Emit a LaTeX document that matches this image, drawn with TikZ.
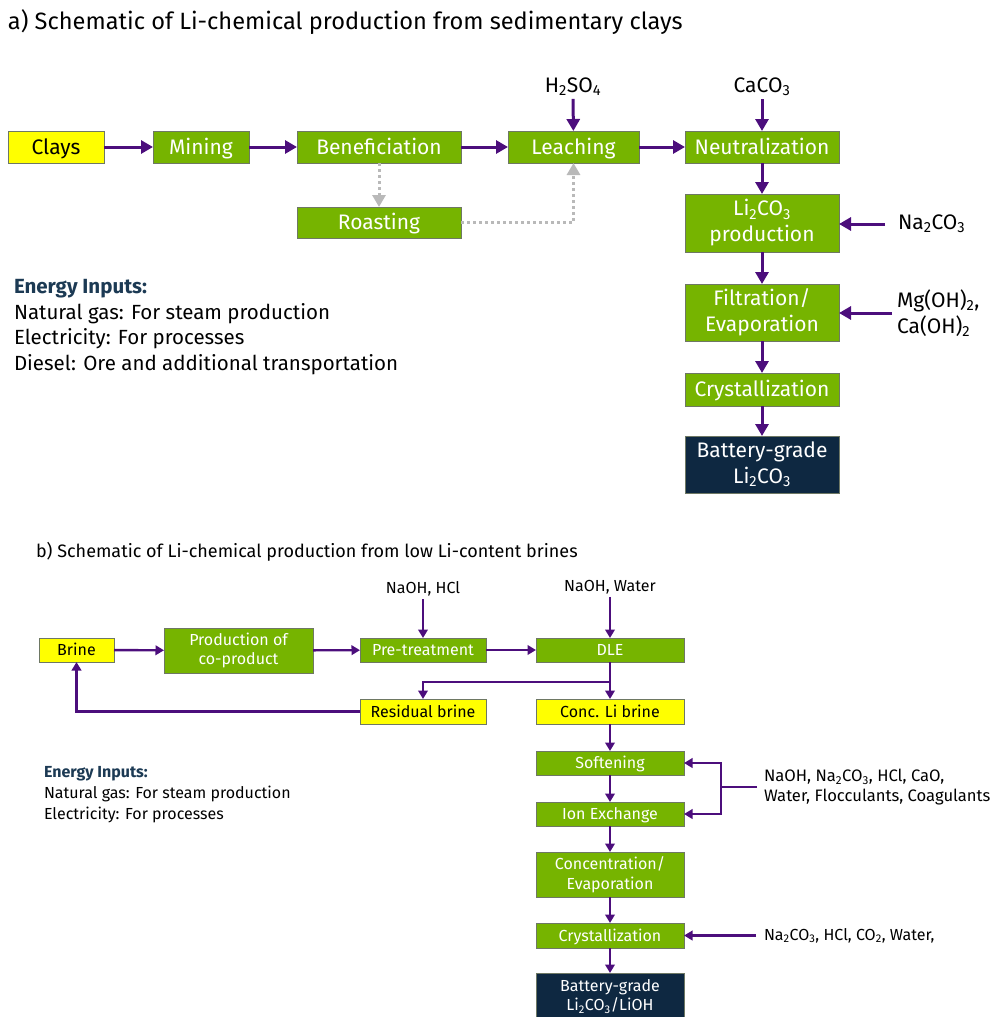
\documentclass[tikz,border=0pt]{standalone}
\usepackage{fontspec}
\setmainfont{Fira Sans}
\usetikzlibrary{arrows.meta,positioning}

\definecolor{procgreen}{RGB}{118,180,0}
\definecolor{feedyellow}{RGB}{255,255,0}
\definecolor{flowpurple}{RGB}{76,14,124}
\definecolor{productnavy}{RGB}{14,40,65}
\definecolor{headblue}{RGB}{28,58,84}
\definecolor{boxedge}{RGB}{110,120,100}
\definecolor{recyclegray}{RGB}{185,185,185}

\begin{document}
\begin{tikzpicture}[%
    x=1pt, y=-1pt,
    every node/.style={inner sep=0pt, outer sep=0pt},
    box/.style={draw=boxedge, line width=0.8pt, minimum height=32pt},
    proc/.style={box, fill=procgreen, text=white},
    feed/.style={box, fill=feedyellow, text=black},
    product/.style={box, fill=productnavy, text=white},
    twoline/.style={align=center},
    fonta/.style={font=\fontsize{21}{26}\selectfont},
    fontb/.style={font=\fontsize{16}{19.5}\selectfont},
    capa/.style={fonta, text height=14.5pt, text depth=0pt},
    capb/.style={fontb, text height=11pt, text depth=0pt},
    flow/.style={draw=flowpurple, line width=3pt, -{Triangle[length=12pt,width=13pt]}},
    flowb/.style={draw=flowpurple, line width=2.4pt, -{Triangle[length=8.5pt,width=9.5pt]}},
    recycle/.style={draw=recyclegray, line width=3pt, dash pattern=on 3pt off 3pt,
                    -{Triangle[length=12pt,width=13pt]}}]
    \useasboundingbox (0,0) rectangle (993,1017);

    % a) sedimentary clays
    \node[font=\fontsize{23.6}{28}\selectfont, anchor=base west] (title_a) at (8,29)
        {a) Schematic of Li-chemical production from sedimentary clays};

    \node[feed, capa, minimum width=96pt] (clays) at (56,147) {Clays};
    \node[proc, capa, minimum width=96pt] (mining) at (201,147) {Mining};
    \node[proc, capa, minimum width=164pt] (benef) at (379,147) {Beneficiation};
    \node[proc, capa, minimum width=164pt, minimum height=31pt] (roast) at (379,222.5) {Roasting};
    \node[proc, capa, minimum width=131pt] (leach) at (573.5,147) {Leaching};
    \node[proc, capa, minimum width=154pt] (neutral) at (762,147) {Neutralization};
    \node[proc, fonta, twoline, minimum width=154pt, minimum height=58pt] (liprod) at (762,223)
        {Li\textsubscript{2}CO\textsubscript{3}\\production};
    \node[proc, fonta, twoline, minimum width=154pt, minimum height=57pt] (filtr) at (762,312.5)
        {Filtration/\\Evaporation};
    \node[proc, capa, minimum width=154pt, minimum height=33pt] (cryst_a) at (762,389.5) {Crystallization};
    \node[product, fonta, twoline, minimum width=154pt, minimum height=57pt] (batt_a) at (762,464.5)
        {Battery-grade\\Li\textsubscript{2}CO\textsubscript{3}};

    \node[fonta] (h2so4) at (573,87) {H\textsubscript{2}SO\textsubscript{4}};
    \node[fonta] (caco3) at (762,87) {CaCO\textsubscript{3}};
    \node[fonta, anchor=west, inner xsep=13pt] (na2co3) at (885,224) {Na\textsubscript{2}CO\textsubscript{3}};
    \node[fonta, anchor=west, align=left, inner xsep=5pt] (mgoh) at (892,313)
        {Mg(OH)\textsubscript{2},\\Ca(OH)\textsubscript{2}};

    \node[font=\fontsize{20.5}{25.8}\selectfont, anchor=north west, align=left] (energy_a) at (14,279)
        {\textcolor{headblue}{\bfseries Energy Inputs:}\\
         Natural gas: For steam production\\
         Electricity: For processes\\
         Diesel: Ore and additional transportation};

    \draw[flow] (clays) -- (mining);
    \draw[flow] (mining) -- (benef);
    \draw[flow] (benef) -- (leach);
    \draw[flow] (leach) -- (neutral);
    \draw[flow, shorten <=3pt] (h2so4) -- (leach);
    \draw[flow, shorten <=3pt] (caco3) -- (neutral);
    \draw[flow] (neutral) -- (liprod);
    \draw[flow] (liprod) -- (filtr);
    \draw[flow] (filtr) -- (cryst_a);
    \draw[flow] (cryst_a) -- (batt_a);
    \draw[flow] (na2co3.west) -- (na2co3.west -| liprod.east);
    \draw[flow] (mgoh.west) -- (mgoh.west -| filtr.east);
    \draw[recycle] (benef) -- (roast);
    \draw[recycle] (roast) -| (leach);

    % b) low Li-content brines
    \node[font=\fontsize{18}{22}\selectfont, anchor=base west] (title_b) at (36,557)
        {b) Schematic of Li-chemical production from low Li-content brines};

    \node[feed, capb, minimum width=75pt, minimum height=24pt] (brine) at (76.5,650) {Brine};
    \node[proc, fontb, twoline, minimum width=149pt, minimum height=45pt] (coprod) at (238.5,650.5)
        {Production of\\co-product};
    \node[proc, capb, minimum width=126pt, minimum height=24pt] (pretreat) at (423,650) {Pre-treatment};
    \node[proc, capb, minimum width=148pt, minimum height=24pt] (dle) at (610,650) {DLE};
    \node[feed, capb, minimum width=126pt, minimum height=25pt] (resid) at (423,711.5) {Residual brine};
    \node[feed, capb, minimum width=148pt, minimum height=25pt] (conc) at (610,711.5) {Conc. Li brine};
    \node[proc, capb, minimum width=148pt, minimum height=24pt] (soft) at (610,763) {Softening};
    \node[proc, capb, minimum width=148pt, minimum height=24pt] (ionex) at (610,814) {Ion Exchange};
    \node[proc, fontb, twoline, minimum width=148pt, minimum height=45pt] (concev) at (610,874.5)
        {Concentration/\\Evaporation};
    \node[proc, capb, minimum width=148pt, minimum height=25pt] (cryst_b) at (610,935.5) {Crystallization};
    \node[product, fontb, twoline, minimum width=148pt, minimum height=47pt] (batt_b) at (610,996.5)
        {Battery-grade\\Li\textsubscript{2}CO\textsubscript{3}/LiOH};

    \node[fontb] (naohhcl) at (423,589) {NaOH, HCl};
    \node[fontb] (naohwater) at (610,587) {NaOH, Water};
    \node[font=\fontsize{16.6}{20}\selectfont, anchor=west, align=left, inner xsep=7pt] (softreag) at (757,787)
        {NaOH, Na\textsubscript{2}CO\textsubscript{3}, HCl, CaO,\\Water, Flocculants, Coagulants};
    \node[fontb, anchor=west, inner xsep=8pt] (crystreag) at (756,935.5)
        {Na\textsubscript{2}CO\textsubscript{3}, HCl, CO\textsubscript{2}, Water,};
    \coordinate (dlesplit) at (610,682);
    \coordinate (reagsplit) at (721,787);

    \node[font=\fontsize{16}{21}\selectfont, anchor=north west, align=left] (energy_b) at (44,766)
        {\textcolor{headblue}{\bfseries Energy Inputs:}\\
         Natural gas: For steam production\\
         Electricity: For processes};

    \draw[flowb] (brine) -- (coprod);
    \draw[flowb] (coprod) -- (pretreat);
    \draw[flowb] (pretreat) -- (dle);
    \draw[flowb, shorten <=3pt] (naohhcl) -- (pretreat);
    \draw[flowb, shorten <=3pt] (naohwater) -- (dle);
    \draw[flowb] (dle) -- (conc);
    \draw[flowb] (dlesplit) -| (resid);
    \draw[flowb] (resid.west) -| (brine.south);
    \draw[flowb] (conc) -- (soft);
    \draw[flowb] (soft) -- (ionex);
    \draw[flowb] (ionex) -- (concev);
    \draw[flowb] (concev) -- (cryst_b);
    \draw[flowb] (cryst_b) -- (batt_b);
    \draw[draw=flowpurple, line width=2.4pt] (softreag.west) -- (reagsplit);
    \draw[flowb] (reagsplit) |- (soft.east);
    \draw[flowb] (reagsplit) |- (ionex.east);
    \draw[flowb] (crystreag.west) -- (crystreag.west -| cryst_b.east);
\end{tikzpicture}
\end{document}
